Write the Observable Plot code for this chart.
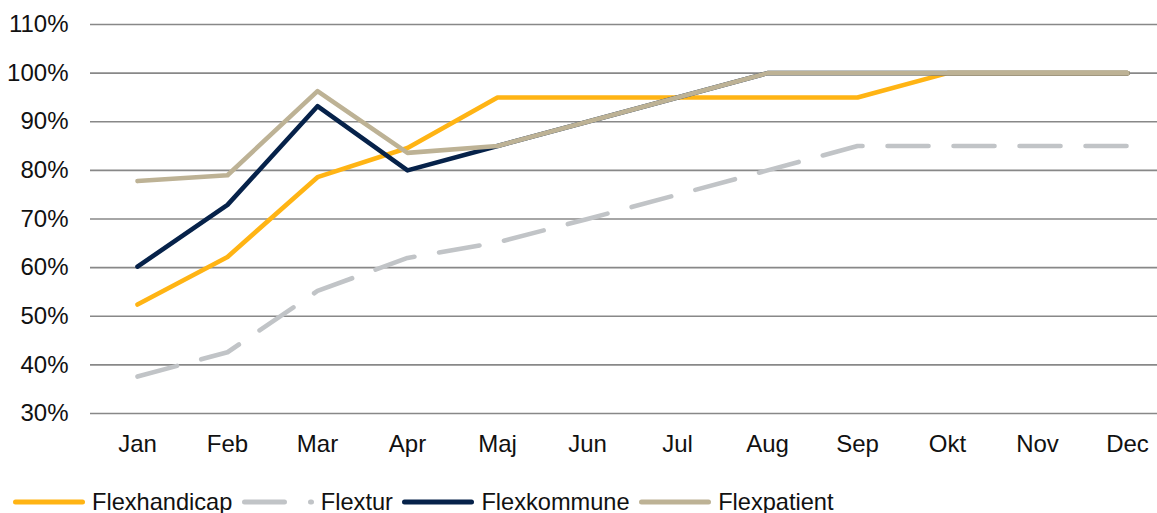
<!DOCTYPE html>
<html>
<head>
<meta charset="utf-8">
<script src="https://cdn.jsdelivr.net/npm/d3@7"></script>
<script src="https://cdn.jsdelivr.net/npm/@observablehq/plot@0.6"></script>
<style>
  html, body { margin: 0; padding: 0; background: #fff; }
  body { width: 1157px; height: 513px; position: relative; overflow: hidden; font-family: "Liberation Sans", Arial, sans-serif; }
  #chart { position: absolute; left: 0; top: 0; }
  #legend { position: absolute; left: 13px; top: 490px; height: 24px; display: flex; align-items: center; font-size: 23.6px; line-height: 24px; color: #111; white-space: nowrap; }
  #legend .item { display: flex; align-items: center; margin-right: 9.5px; }
  #legend svg { display: block; margin-right: 7px; }
</style>
</head>
<body>
<div id="chart"></div>
<div id="legend"></div>
<script>
const months = ["Jan","Feb","Mar","Apr","Maj","Jun","Jul","Aug","Sep","Okt","Nov","Dec"];
const seriesNames = ["Flexhandicap","Flextur","Flexkommune","Flexpatient"];
const flexhandicap = [52.4, 62.2, 78.6, 84.6, 95, 95, 95, 95, 95, 100, 100, 100];
const flextur      = [37.6, 42.6, 55.2, 62.0, 65.2, 70, 75, 80, 85, 85, 85, 85];
const flexkommune  = [60.2, 72.9, 93.2, 80.0, 85, 90, 95, 100, 100, 100, 100, 100];
const flexpatient  = [77.8, 79.0, 96.3, 83.6, 85, 90, 95, 100, 100, 100, 100, 100];
const yTicks = [30, 40, 50, 60, 70, 80, 90, 100, 110];

const colors = ["#FFB414", "#C1C4C7", "#06224A", "#BDB295"];
const dashes = [null, "41 25", null, null];
const valuesList = [flexhandicap, flextur, flexkommune, flexpatient];

const rows = (vals) => months.map((m, i) => ({month: m, value: vals[i]}));

const lineMarks = valuesList.map((vals, k) => Plot.line(rows(vals), {
  x: "month", y: "value",
  stroke: colors[k], strokeWidth: 4.6,
  strokeLinecap: "round", strokeLinejoin: "round",
  strokeDasharray: dashes[k] || undefined
}));

const chart = Plot.plot({
  width: 1157,
  height: 470,
  marginLeft: 90,
  marginRight: 0,
  marginTop: 24,
  marginBottom: 57,
  style: {fontFamily: "'Liberation Sans', Arial, sans-serif", fontSize: "24px", color: "#111", background: "#fff"},
  x: {type: "point", domain: months, range: [136, 1127], padding: 0, label: null},
  y: {domain: [30, 110], label: null},
  marks: [
    Plot.gridY(yTicks, {stroke: "#888", strokeOpacity: 1, strokeWidth: 1.6}),
    Plot.axisY(yTicks, {tickSize: 0, tickPadding: 22, tickFormat: d => d + "%", label: null, fill: "#111"}),
    Plot.axisX(months, {tickSize: 0, tickPadding: 21, label: null, fill: "#111"}),
    ...lineMarks
  ]
});
document.getElementById("chart").appendChild(chart);

const legend = document.getElementById("legend");
seriesNames.forEach((name, k) => {
  const item = document.createElement("div");
  item.className = "item";
  const ns = "http://www.w3.org/2000/svg";
  const sw = document.createElementNS(ns, "svg");
  sw.setAttribute("width", 72); sw.setAttribute("height", 10);
  const ln = document.createElementNS(ns, "line");
  ln.setAttribute("x1", 2.5); ln.setAttribute("x2", 69.5);
  ln.setAttribute("y1", 5); ln.setAttribute("y2", 5);
  ln.setAttribute("stroke", colors[k]);
  ln.setAttribute("stroke-width", 5);
  ln.setAttribute("stroke-linecap", "round");
  if (dashes[k]) ln.setAttribute("stroke-dasharray", "40 26");
  sw.appendChild(ln);
  item.appendChild(sw);
  const t = document.createElement("span");
  t.textContent = name;
  item.appendChild(t);
  legend.appendChild(item);
});
</script>
</body>
</html>
